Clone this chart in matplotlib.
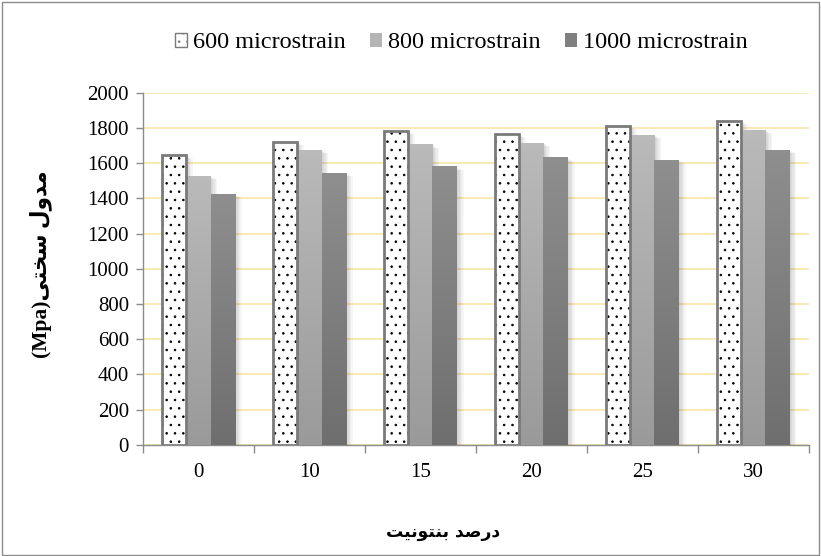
import numpy as np
import matplotlib
matplotlib.use("Agg")
import matplotlib.pyplot as plt
from matplotlib.colors import LinearSegmentedColormap
from matplotlib.patches import Rectangle, Patch

# data
categories = ['0', '10', '15', '20', '25', '30']
series_names = ['600 microstrain', '800 microstrain', '1000 microstrain']
v600 = [1648, 1722, 1784, 1767, 1812, 1841]
v800 = [1528, 1676, 1705, 1716, 1761, 1790]
v1000 = [1426, 1545, 1580, 1631, 1619, 1676]
y_ticks = [0, 200, 400, 600, 800, 1000, 1200, 1400, 1600, 1800, 2000]

# Persian labels, letters given in shaped visual order (matplotlib does no shaping)
ylabel_txt = '(Mpa)\ufef0\ufe98\ufea8\ufeb3 \ufedd\ufeed\ufeaa\ufee3'
xlabel_txt = '\ufe96\ufef4\ufee7\ufeee\ufe98\ufee8\ufe91 \ufeaa\ufebb\ufead\ufea9'

plt.rcParams['font.family'] = ['Liberation Serif', 'DejaVu Sans']
plt.rcParams['hatch.linewidth'] = 0.6

fig = plt.figure(figsize=(8.21, 5.56), dpi=100)
fig.patch.set_facecolor('white')
fig.patches.append(Rectangle((0.002, 0.002), 0.996, 0.995, transform=fig.transFigure,
                             fill=False, edgecolor='#8c8c8c', linewidth=1.0))
ax = fig.add_axes([0.174, 0.2, 0.811, 0.633])

x = np.arange(len(categories))
w = 0.22
offsets = [-w, 0, w]

def add_shadow(bars):
    for b in bars:
        x0, y0 = b.get_x(), b.get_y()
        for k in range(1, 6):
            dx = k * 0.012
            ax.add_patch(Rectangle((x0 + dx, y0), b.get_width(), b.get_height() - k * 4,
                                   facecolor='black', alpha=0.035, linewidth=0, zorder=1))

def gradient_fill(bars, top, bottom):
    cmap = LinearSegmentedColormap.from_list('g', [bottom, top])
    grad = np.linspace(0, 1, 64).reshape(-1, 1)
    for b in bars:
        x0 = b.get_x()
        ax.imshow(grad, extent=[x0, x0 + b.get_width(), 0, b.get_height()],
                  origin='lower', cmap=cmap, aspect='auto', zorder=3)

b1 = ax.bar(x + offsets[0], v600, w, facecolor='white', edgecolor='black',
            linewidth=0, hatch='..', zorder=3)
ax.bar(x + offsets[0], v600, w, facecolor='none', edgecolor='#7a7a7a',
       linewidth=2.0, zorder=4)
b2 = ax.bar(x + offsets[1], v800, w, color='#b0b0b0', linewidth=0, zorder=2)
b3 = ax.bar(x + offsets[2], v1000, w, color='#808080', linewidth=0, zorder=2)
add_shadow(b1)
add_shadow(b2)
add_shadow(b3)
gradient_fill(b2, '#bababa', '#9a9a9a')
gradient_fill(b3, '#8e8e8e', '#6f6f6f')

ax.set_xlim(-0.5, len(categories) - 0.5)
ax.set_ylim(0, 2000)
ax.set_yticks(y_ticks)
ax.set_xticks(x)
ax.set_xticklabels(categories)
ax.set_xticks(np.arange(len(categories) + 1) - 0.5, minor=True)
ax.tick_params(axis='x', which='major', length=0, pad=13, labelsize=15)
ax.tick_params(axis='x', which='minor', length=6, color='#8c8c8c', width=1)
ax.tick_params(axis='y', length=5, color='#8c8c8c', width=1, labelsize=15, pad=5)
ax.yaxis.grid(True, color='#f7e6a6', linewidth=1.2, zorder=0)
ax.set_axisbelow(True)
for s in ['top', 'right']:
    ax.spines[s].set_visible(False)
for s in ['left', 'bottom']:
    ax.spines[s].set_color('#8c8c8c')
    ax.spines[s].set_linewidth(1.0)

fig.text(0.05, 0.525, ylabel_txt, rotation=90, ha='center', va='center',
         fontsize=15.5, fontweight='bold')
fig.text(0.54, 0.043, xlabel_txt, ha='center', va='center', fontsize=12.3,
         fontweight='bold', family=['DejaVu Sans'])

handles = [Patch(facecolor='white', edgecolor='#7a7a7a', hatch='..', linewidth=1.0),
           Patch(facecolor='#b4b4b4', edgecolor='none'),
           Patch(facecolor='#808080', edgecolor='none')]
fig.legend(handles, series_names, loc='center', bbox_to_anchor=(0.562, 0.923), ncol=3,
           frameon=False, fontsize=17.5, handlelength=0.5, handleheight=0.5,
           handletextpad=0.25, columnspacing=1.0)

fig.savefig('out.png', dpi=100)
